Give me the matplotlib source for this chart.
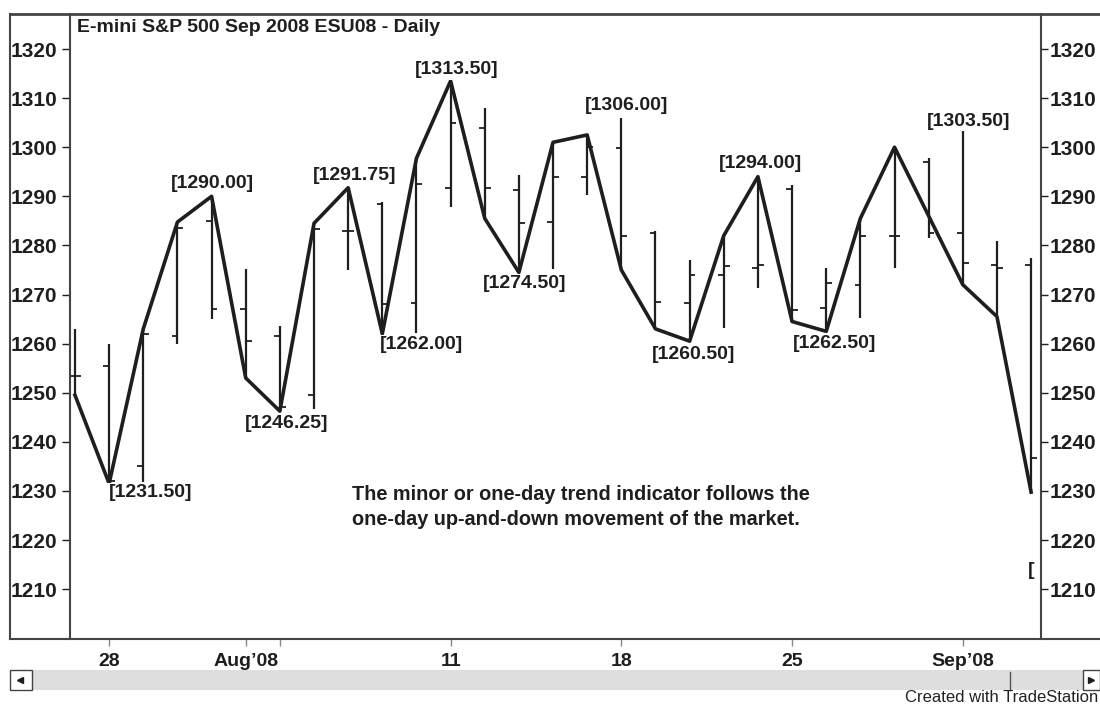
import matplotlib
matplotlib.use('Agg')
import matplotlib.pyplot as plt
from matplotlib.lines import Line2D
from matplotlib.patches import Rectangle

plt.rcParams['font.family'] = ['Liberation Sans', 'DejaVu Sans']
plt.rcParams['font.weight'] = 'bold'

W, H = 1100, 705
INK = '#1e1e1e'

# daily bars, Jul 25 - Sep 4 2008
opens  = [1253.5, 1255.5, 1235.0, 1261.5, 1285.0, 1267.0, 1261.5, 1249.5, 1283.0, 1288.5,
          1268.25, 1291.75, 1304.0, 1291.25, 1284.75, 1294.0, 1299.75, 1282.5, 1268.25, 1274.0,
          1275.5, 1291.5, 1267.25, 1272.0, 1282.0, 1297.0, 1282.5, 1276.0, 1276.0]
highs  = [1263.0, 1260.0, 1263.0, 1284.75, 1290.0, 1275.25, 1263.5, 1284.75, 1291.75, 1288.75,
          1297.75, 1313.5, 1308.0, 1294.25, 1301.0, 1302.5, 1306.0, 1283.0, 1277.0, 1282.0,
          1294.0, 1292.25, 1275.5, 1285.5, 1300.0, 1297.75, 1303.5, 1281.0, 1277.5]
lows   = [1249.5, 1231.5, 1231.75, 1260.0, 1265.0, 1253.0, 1246.25, 1246.75, 1275.0, 1262.0,
          1262.25, 1287.75, 1285.5, 1274.5, 1275.25, 1290.25, 1275.0, 1263.0, 1260.5, 1263.25,
          1271.25, 1264.5, 1262.5, 1265.25, 1275.5, 1281.5, 1272.0, 1265.5, 1229.75]
closes = [1253.5, 1232.0, 1262.0, 1283.5, 1267.0, 1260.5, 1247.0, 1283.25, 1283.0, 1268.0,
          1292.5, 1305.0, 1291.75, 1284.5, 1294.0, 1300.0, 1282.0, 1268.5, 1274.0, 1275.75,
          1276.0, 1266.75, 1272.25, 1282.0, 1282.0, 1282.5, 1276.5, 1275.5, 1236.75]

# minor (one-day) trend indicator
trend_bars = [0, 1, 2, 3, 4, 5, 6, 7, 8, 9, 10, 11, 12, 13, 14, 15, 16, 17, 18, 19,
              20, 21, 22, 23, 24, 26, 27, 28]
trend_prices = [1249.5, 1231.5, 1263.0, 1284.75, 1290.0, 1253.0, 1246.25, 1284.5, 1291.75, 1262.0,
                1297.75, 1313.5, 1285.5, 1274.5, 1301.0, 1302.5, 1275.0, 1263.0, 1260.5, 1282.0,
                1294.0, 1264.5, 1262.5, 1285.5, 1300.0, 1272.0, 1265.5, 1229.75]

# swing labels
swing_bars = [1, 4, 6, 8, 9, 11, 13, 16, 18, 20, 22, 26]
swing_prices = [1231.50, 1290.00, 1246.25, 1291.75, 1262.00, 1313.50, 1274.50, 1306.00,
                1260.50, 1294.00, 1262.50, 1303.50]
# label offsets in pixels (layout)
swing_dx = [41, 1, 7, 6, 39, 6, 6, 5, 4, 3, 8, 6]
swing_dy = [-9, 13, -12, 12, -11, 11, -11, 12, -13, 13, -12, 9]

date_tick_bars = [1, 5, 6, 11, 16, 21, 26]
date_tick_labels = ['28', 'Aug\u201908', '', '11', '18', '25', 'Sep\u201908']
price_ticks = list(range(1210, 1321, 10))

fig = plt.figure(figsize=(11, 7.05), dpi=100)
ax = fig.add_axes([70 / W, 1 - 639 / H, 971 / W, 625 / H])

x = list(range(len(opens)))
ax.vlines(x, lows, highs, color=INK, lw=1.6)
ax.hlines(opens, [i - 0.17 for i in x], x, color=INK, lw=1.3)
ax.hlines(closes, x, [i + 0.17 for i in x], color=INK, lw=1.3)
ax.plot(trend_bars, trend_prices, color=INK, lw=2.6, solid_joinstyle='round')

px2pt = 72 / 100
for b, p, dx, dy in zip(swing_bars, swing_prices, swing_dx, swing_dy):
    ax.annotate('[%.2f]' % p, (b, p), xytext=(dx * px2pt, dy * px2pt),
                textcoords='offset points', ha='center', va='center',
                fontsize=14, color=INK,
                bbox=dict(fc='white', ec='none', pad=1))
# last swing label is cut by the right edge of the chart, only its bracket shows
ax.annotate('[', (28, lows[-1]), xytext=(0, -78 * px2pt), textcoords='offset points',
            ha='center', va='center', fontsize=14, color=INK)

ax.set_xlim(-0.146, 28.29)
ax.set_ylim(1199.84, 1327.13)

ax.set_yticks(price_ticks)
ax.tick_params(axis='y', direction='out', length=6, width=1, pad=3,
               labelsize=15, colors=INK)
ax.set_xticks(date_tick_bars)
ax.set_xticklabels(date_tick_labels)
ax.tick_params(axis='x', direction='out', length=5, width=1, pad=5,
               labelsize=14, colors=INK, color='#888888')

ax2 = ax.twinx()
ax2.set_ylim(ax.get_ylim())
ax2.set_yticks(price_ticks)
ax2.tick_params(axis='y', direction='out', length=5, width=1, pad=1,
                labelsize=15, colors=INK)
for s in ax2.spines.values():
    s.set_visible(False)

ax.spines['top'].set_visible(False)
ax.spines['bottom'].set_visible(False)
for s in ('left', 'right'):
    ax.spines[s].set_color('#444444')
    ax.spines[s].set_linewidth(1.5)


def fx(v):
    return v / W


def fy(v):
    return 1 - v / H


# outer frame
fig.add_artist(Line2D([fx(10), fx(1100)], [fy(14), fy(14)], color='#444444', lw=2))
fig.add_artist(Line2D([fx(10), fx(1100)], [fy(639), fy(639)], color='#444444', lw=1.5))
fig.add_artist(Line2D([fx(10), fx(10)], [fy(14), fy(639)], color='#444444', lw=1.5))

# scroll bar
fig.add_artist(Rectangle((fx(32), fy(690)), (1083 - 32) / W, 20 / H, zorder=-1,
                         transform=fig.transFigure, fc='#dedede', ec='none'))
fig.add_artist(Rectangle((fx(10), fy(690)), 22 / W, 20 / H, zorder=-1,
                         transform=fig.transFigure, fc='white', ec='#444444', lw=1))
fig.add_artist(Rectangle((fx(1083), fy(690)), 17 / W, 20 / H, zorder=-1,
                         transform=fig.transFigure, fc='white', ec='#444444', lw=1))
fig.add_artist(Line2D([fx(20)], [fy(680)], marker='<', ms=4, color=INK))
fig.add_artist(Line2D([fx(1091)], [fy(680)], marker='>', ms=4, color=INK))
fig.add_artist(Line2D([fx(1010), fx(1010)], [fy(672), fy(690)], color='#555555', lw=1))

fig.text(fx(77), fy(27), 'E-mini S&P 500 Sep 2008 ESU08 - Daily', fontsize=14,
         ha='left', va='center', color=INK)
fig.text(fx(352), fy(507), 'The minor or one-day trend indicator follows the\n'
         'one-day up-and-down movement of the market.', fontsize=14.3,
         ha='left', va='center', linespacing=1.43, color=INK)
fig.text(fx(1098), fy(697), 'Created with TradeStation', fontsize=12,
         fontweight='normal', ha='right', va='center', color='#222222')

fig.savefig('out.png', dpi=100, facecolor='white')
